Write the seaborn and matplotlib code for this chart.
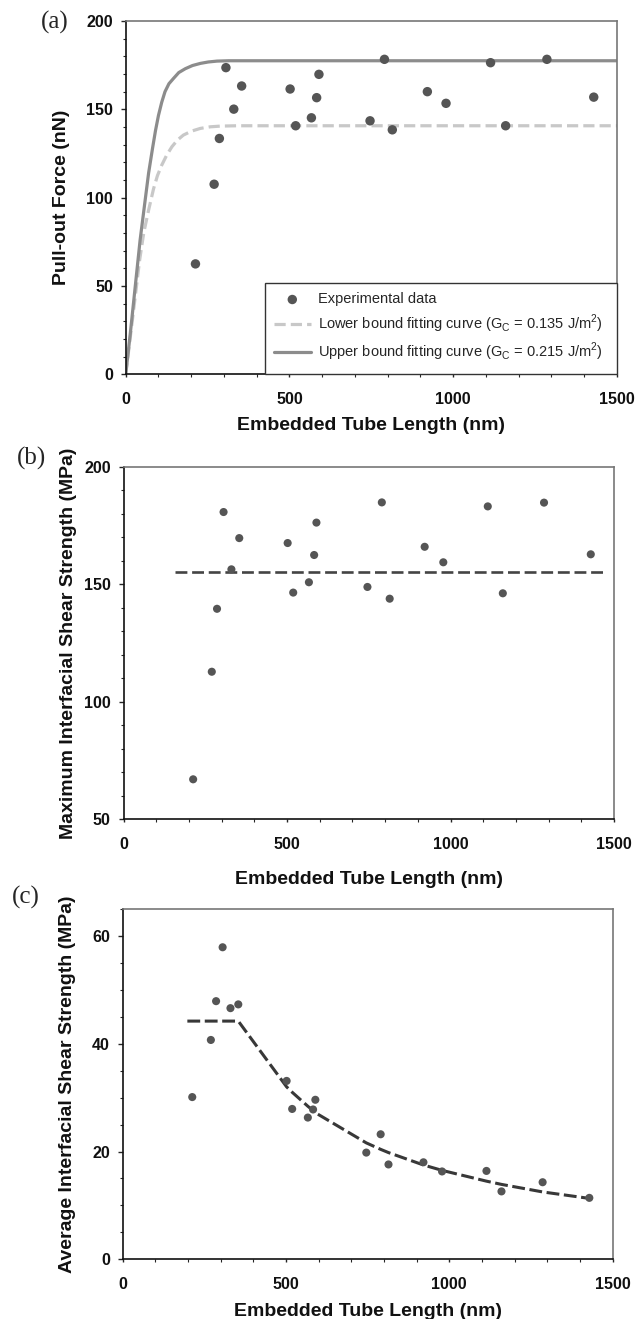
import numpy as np
import pandas as pd
import matplotlib
matplotlib.use("Agg")
import matplotlib.pyplot as plt
import seaborn as sns
from matplotlib.ticker import MultipleLocator
from matplotlib.patches import Rectangle

# ---------------- data ----------------
length_nm = [213, 270, 286, 306, 330, 354, 502, 519, 567, 583, 590, 746, 790,
             814, 921, 978, 1114, 1160, 1286, 1429]
pullout_nN = [62.5, 107.6, 133.5, 173.6, 150.1, 163.2, 161.5, 140.7, 145.2, 156.6,
              169.8, 143.5, 178.3, 138.4, 160.0, 153.4, 176.4, 140.7, 178.3, 156.9]
max_iss_mpa = [66.9, 112.7, 139.5, 180.7, 156.3, 169.6, 167.5, 146.4, 150.8, 162.4,
               176.2, 148.8, 184.8, 143.8, 165.9, 159.3, 183.1, 146.1, 184.7, 162.7]
avg_iss_mpa = [30.1, 40.7, 47.9, 57.9, 46.6, 47.3, 33.1, 27.9, 26.3, 27.8,
               29.6, 19.8, 23.2, 17.6, 18.0, 16.3, 16.4, 12.6, 14.3, 11.4]

upper_L = [0, 14, 29, 44, 59, 70, 82, 91, 100, 110, 120, 132, 146, 162, 182, 204,
           228, 252, 279, 315, 350, 1500]
upper_F = [0, 23, 49.5, 76, 98, 114, 128, 138, 146.5, 154, 160, 164.5, 167.5, 170.8,
           173, 174.8, 176, 176.8, 177.3, 177.5, 177.5, 177.5]
lower_L = [0, 14, 29, 42, 55, 70, 85, 97, 110, 125, 141, 158, 176, 200, 228, 258,
           289, 340, 400, 1500]
lower_F = [0, 21, 43.8, 64, 80, 93, 105, 112.5, 118.4, 124, 128.8, 132.6, 135.4,
           137.6, 139.2, 140.1, 140.5, 140.7, 140.7, 140.7]

mean_L = [157, 1476]
mean_max_iss = [155, 155]

fit_avg_L = [198, 213, 270, 286, 306, 330, 354, 502, 519, 567, 583, 590, 746, 790,
             814, 921, 978, 1114, 1160, 1286, 1429]
fit_avg_v = [44.2, 44.2, 44.2, 44.2, 44.2, 44.2, 44.2, 32.0, 31.0, 28.4, 27.6, 27.2,
             21.6, 20.4, 19.8, 17.5, 16.5, 14.5, 13.9, 12.5, 11.3]

pts = pd.DataFrame({"L": length_nm, "F": pullout_nN, "tmax": max_iss_mpa, "tavg": avg_iss_mpa})

sns.set_style("ticks")
plt.rcParams["font.family"] = ["Liberation Sans", "DejaVu Sans"]
plt.rcParams["mathtext.fontset"] = "custom"
plt.rcParams["mathtext.rm"] = "Liberation Sans"

W, H = 635, 1319
fig = plt.figure(figsize=(W / 100, H / 100), dpi=100)


def make_ax(l, r, t, b):
    return fig.add_axes([l / W, 1 - b / H, (r - l) / W, (b - t) / H])


dot = "#555555"
lab_font = dict(fontsize=14, fontweight="bold")


def style(ax, ymaj, ymin, ylim, xlab_y, ylab_x):
    ax.set_xlim(0, 1500)
    ax.set_ylim(*ylim)
    ax.xaxis.set_major_locator(MultipleLocator(500))
    ax.xaxis.set_minor_locator(MultipleLocator(100))
    ax.yaxis.set_major_locator(MultipleLocator(ymaj))
    ax.yaxis.set_minor_locator(MultipleLocator(ymin))
    ax.tick_params(axis="x", which="major", direction="out", length=2.4, width=1, pad=10.5)
    ax.tick_params(axis="x", which="minor", direction="out", length=2.4, width=0.8)
    ax.tick_params(axis="y", which="major", direction="out", length=3.7, width=1, pad=5.5)
    ax.tick_params(axis="y", which="minor", direction="out", length=2.5, width=0.8)
    for lab in ax.get_xticklabels() + ax.get_yticklabels():
        lab.set_fontsize(11.6)
        lab.set_fontweight("bold")
        lab.set_color("#111111")
    ax.spines["left"].set_color("#111111")
    ax.spines["bottom"].set_color("#111111")
    ax.spines["top"].set_color("#777777")
    ax.spines["right"].set_color("#777777")
    for s in ax.spines.values():
        s.set_linewidth(1.2)
    ax.set_xlabel("Embedded Tube Length (nm)", color="#111111", **lab_font)
    ax.xaxis.set_label_coords(0.5, xlab_y)
    ax.yaxis.set_label_coords(ylab_x, 0.5)


# ---------------- (a) ----------------
axa = make_ax(125.7, 617, 21, 374.3)
sns.lineplot(x=lower_L, y=lower_F, ax=axa, color="#c8c8c8", lw=2.3,
             estimator=None, sort=False,
             label=r"Lower bound fitting curve (G$_\mathregular{C}$ = 0.135 J/m$^\mathregular{2}$)")
axa.lines[-1].set_dashes([3.5, 1.6])
sns.lineplot(x=upper_L, y=upper_F, ax=axa, color="#8c8c8c", lw=2.3,
             estimator=None, sort=False,
             label=r"Upper bound fitting curve (G$_\mathregular{C}$ = 0.215 J/m$^\mathregular{2}$)")
sns.scatterplot(data=pts, x="L", y="F", ax=axa, color=dot, s=46, edgecolor="none",
                label="Experimental data", zorder=5)
axa.set_ylabel("Pull-out Force (nN)", color="#111111", **lab_font)
style(axa, 50, 10, (0, 200), -0.1218, -0.1134)
axa.add_patch(Rectangle((0.2835, 0), 0.7165, 0.258, transform=axa.transAxes,
                        facecolor="white", edgecolor="#333333", lw=1.0, zorder=6,
                        clip_on=False))
h, l = axa.get_legend_handles_labels()
order = [2, 0, 1]
leg = axa.legend([h[i] for i in order], [l[i] for i in order],
                 loc="upper left", bbox_to_anchor=(0.302, 0.232),
                 borderaxespad=0, borderpad=0, frameon=False,
                 fontsize=10.5, handlelength=2.5, handletextpad=0.5,
                 labelspacing=0.42)
leg.set_zorder(7)
fig.text(55 / W, 1 - 22 / H, "(a)", family="Liberation Serif", fontsize=18,
         ha="center", va="center")

# ---------------- (b) ----------------
axb = make_ax(123.5, 614, 466.7, 819)
sns.scatterplot(data=pts, x="L", y="tmax", ax=axb, color=dot, s=34, edgecolor="none", zorder=5)
sns.lineplot(x=mean_L, y=mean_max_iss, ax=axb, color="#444444", lw=1.9,
             estimator=None, sort=False)
axb.lines[-1].set_dashes([4.5, 1.8])
axb.set_ylabel("Maximum Interfacial Shear Strength (MPa)", color="#111111", **lab_font)
style(axb, 50, 10, (50, 200), -0.1485, -0.0948)
fig.text(32 / W, 1 - 458 / H, "(b)", family="Liberation Serif", fontsize=18,
         ha="center", va="center")

# ---------------- (c) ----------------
axc = make_ax(122.7, 612.5, 909, 1259.3)
sns.scatterplot(data=pts, x="L", y="tavg", ax=axc, color=dot, s=34, edgecolor="none", zorder=5)
sns.lineplot(x=fit_avg_L, y=fit_avg_v, ax=axc, color="#383838", lw=2.2,
             estimator=None, sort=False)
axc.lines[-1].set_dashes([4.2, 1.5])
axc.set_ylabel("Average Interfacial Shear Strength (MPa)", color="#111111", **lab_font)
style(axc, 20, 5, (0, 65), -0.1247, -0.0953)
fig.text(26 / W, 1 - 897 / H, "(c)", family="Liberation Serif", fontsize=18,
         ha="center", va="center")

fig.savefig("out.png", dpi=100)
